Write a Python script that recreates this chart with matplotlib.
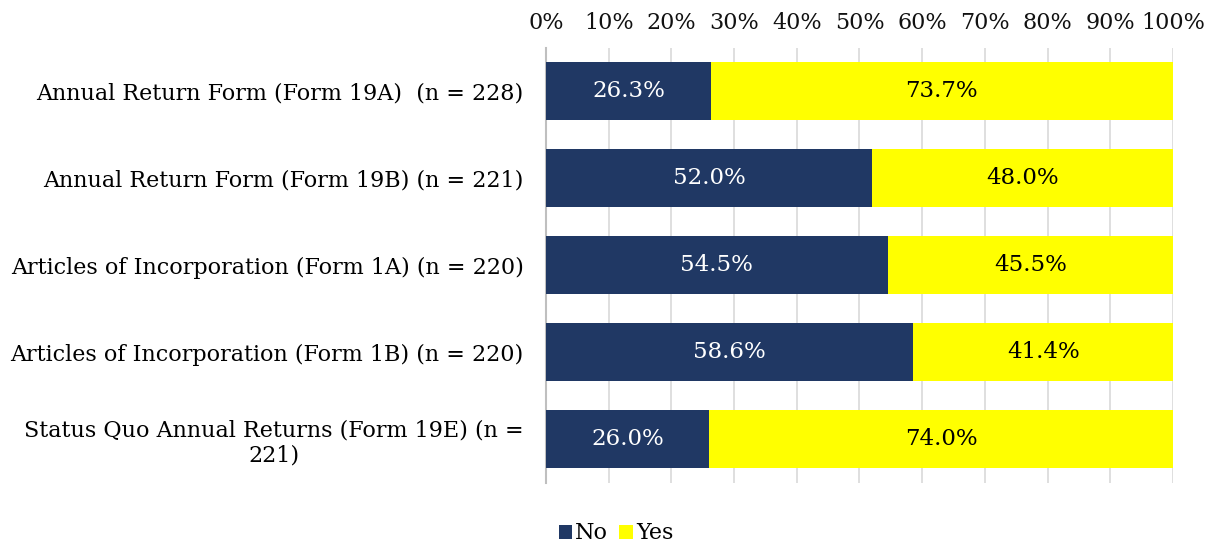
import matplotlib
matplotlib.use("Agg")
import matplotlib.pyplot as plt
from matplotlib.ticker import FixedLocator, FuncFormatter

categories = [
    "Annual Return Form (Form 19A)  (n = 228)",
    "Annual Return Form (Form 19B) (n = 221)",
    "Articles of Incorporation (Form 1A) (n = 220)",
    "Articles of Incorporation (Form 1B) (n = 220)",
    "Status Quo Annual Returns (Form 19E) (n =\n221)",
]
no_vals = [26.3, 52.0, 54.5, 58.6, 26.0]
yes_vals = [73.7, 48.0, 45.5, 41.4, 74.0]
xticks = [0, 10, 20, 30, 40, 50, 60, 70, 80, 90, 100]

plt.rcParams['font.family'] = ['DejaVu Serif']
navy = "#203864"
yellow = "#FFFF00"

fig = plt.figure(figsize=(12.15, 5.48), dpi=100)
ax = fig.add_axes([0.4494, 0.1195, 0.5160, 0.7938])

y = list(range(len(categories)))
h = 0.667
b1 = ax.barh(y, no_vals, height=h, color=navy, label="No", zorder=3)
b2 = ax.barh(y, yes_vals, left=no_vals, height=h, color=yellow, label="Yes", zorder=3)

for yi, n, ye in zip(y, no_vals, yes_vals):
    ax.text(n / 2, yi, f"{n:.1f}%", ha="center", va="center", color="white", fontsize=16.5, zorder=4)
    ax.text(n + ye / 2, yi, f"{ye:.1f}%", ha="center", va="center", color="black", fontsize=16.5, zorder=4)

ax.set_xlim(0, 100)
ax.set_ylim(len(categories) - 0.5, -0.5)
ax.xaxis.set_major_locator(FixedLocator(xticks))
ax.xaxis.set_major_formatter(FuncFormatter(lambda v, p: f"{int(v)}%"))
ax.xaxis.tick_top()
ax.tick_params(axis="x", length=0, labelsize=16, pad=9.5, labelcolor="#111111")
ax.tick_params(axis="y", length=0, labelsize=16, pad=16)
ax.set_yticks(y)
ax.set_yticklabels(categories, multialignment="center")

ax.grid(axis="x", color="#d9d9d9", linewidth=1.2, zorder=0)
for s in ["top", "right", "bottom"]:
    ax.spines[s].set_visible(False)
ax.spines["left"].set_color("#bfbfbf")
ax.spines["left"].set_linewidth(1.5)

leg = fig.legend(handles=[b1, b2], labels=["No", "Yes"], loc="lower center",
                 bbox_to_anchor=(0.507, -0.03), ncol=2, frameon=False, fontsize=16,
                 handlelength=0.6, handleheight=0.6, handletextpad=0.15, columnspacing=0.5)

fig.savefig("out.png", dpi=100)
